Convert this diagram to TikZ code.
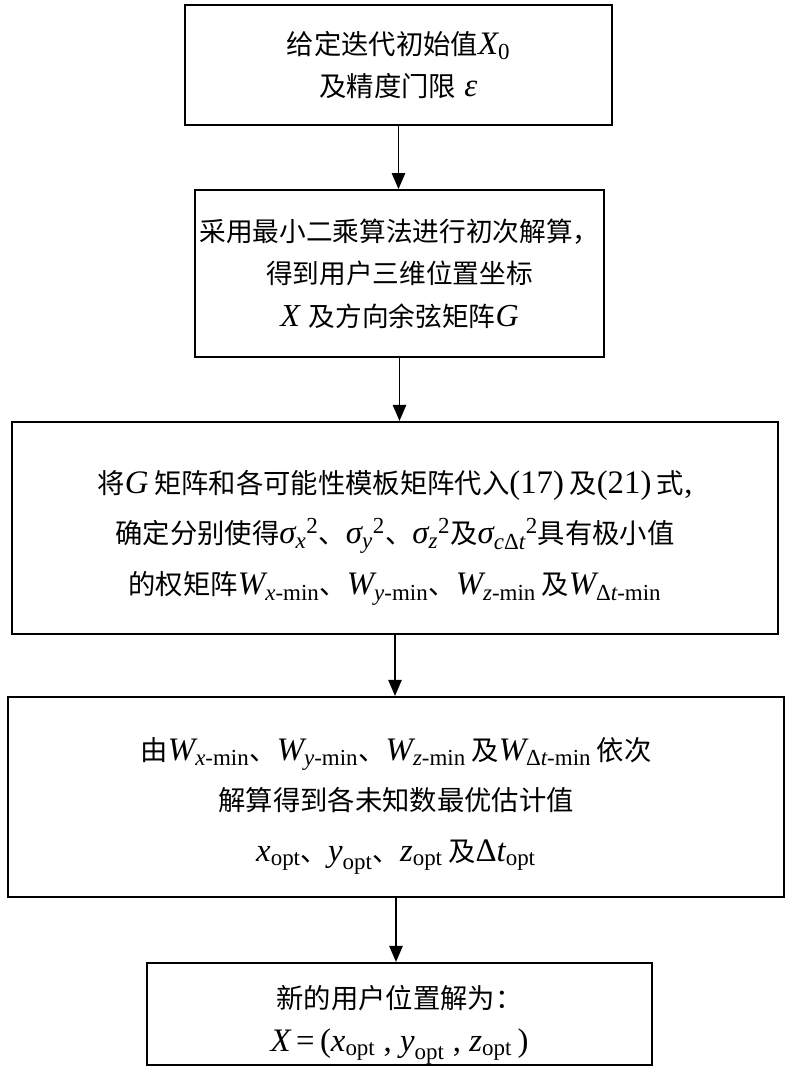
\documentclass[tikz,border=0pt]{standalone}
\usepackage{amsmath}
\usepackage{fontspec}
\setmainfont[Scale = 1.2]{Liberation Serif}
\newfontfamily\cjk{Noto Sans CJK SC}
\usetikzlibrary{positioning, arrows.meta}
\tikzstyle{Arrow} = [
%Create custom arrow style:
line width = 1.1pt,
-{Triangle[width = 10pt, length = 12pt]}
]
\newcommand{\zh}[1]{{\cjk #1}}
\newcommand{\mi}[1]{\textit{#1}}
% lower a block of lines inside its box
\newcommand{\lowered}[2]{\raisebox{-#1}[0pt][0pt]{\begin{tabular}{@{}c@{}}#2\end{tabular}}}

\begin{document}
\begin{tikzpicture}[x = 0.75pt, y = -0.75pt,
			stepbox/.style = {rectangle, draw, line width = 1.6pt, align = center, inner sep = 0pt,
				font = \fontsize{20.5pt}{32pt}\selectfont},
			widebox/.style = {stepbox, font = \fontsize{20.5pt}{38pt}\selectfont},
		]
		\useasboundingbox (0,0) rectangle (800,1070);

		\node[stepbox, minimum width = 320pt, minimum height = 90pt](init) at (398.5,65){%
			\zh{给定迭代初始值}$\mi{X}_{\text{0}}$\\
			\zh{及精度门限} \mi{ε}};
		\node[stepbox, minimum width = 307pt, minimum height = 125pt,
			font = \fontsize{20pt}{32pt}\selectfont](lsq) at (399.5,273.5){%
			\zh{采用最小二乘算法进行初次解算，}\\
			\zh{得到用户三维位置坐标}\\
			\mi{X} \zh{及方向余弦矩阵}\mi{G}};
		\node[widebox, minimum width = 574.5pt, minimum height = 159pt](weight) at (395,528){%
			\lowered{9.5pt}{%
			\zh{将}\mi{G}\,\zh{矩阵和各可能性模板矩阵代入}(17)\,\zh{及}(21)\,\zh{式},\\
			\zh{确定分别使得}$\mi{σ}_{\mi{x}}{}^{\text{2}}$\zh{、}$\mi{σ}_{\mi{y}}{}^{\text{2}}$\zh{、}$\mi{σ}_{\mi{z}}{}^{\text{2}}$\zh{及}$\mi{σ}_{\mi{c}\text{Δ}\mi{t}}{}^{\text{2}}$\zh{具有极小值}\\
			\zh{的权矩阵}$\mi{W}_{\mi{x}\text{-min}}$\zh{、}$\mi{W}_{\mi{y}\text{-min}}$\zh{、}$\mi{W}_{\mi{z}\text{-min}}$\,\zh{及}$\mi{W}_{\text{Δ}\mi{t}\text{-min}}$}};
		\node[widebox, minimum width = 582pt, minimum height = 150pt](optim) at (396,797){%
			\lowered{8pt}{%
			\zh{由}$\mi{W}_{\mi{x}\text{-min}}$\zh{、}$\mi{W}_{\mi{y}\text{-min}}$\zh{、}$\mi{W}_{\mi{z}\text{-min}}$\,\zh{及}$\mi{W}_{\text{Δ}\mi{t}\text{-min}}$\,\zh{依次}\\
			\zh{解算得到各未知数最优估计值}\\
			$\mi{x}_{\text{opt}}$\zh{、}$\mi{y}_{\text{opt}}$\zh{、}$\mi{z}_{\text{opt}}$\,\zh{及}$\text{Δ}\mi{t}_{\text{opt}}$}};
		\node[stepbox, minimum width = 379pt, minimum height = 76.5pt](result) at (399.5,1014){%
			\lowered{11pt}{%
			\zh{新的用户位置解为：}\\
			$\mi{X}\text{\,=\,(}\mi{x}_{\text{opt}}\text{ , }\mi{y}_{\text{opt}}\text{ , }\mi{z}_{\text{opt}}\text{\,)}$}};

		\draw[Arrow](init.south)--(init.south |- lsq.north);
		\draw[Arrow](lsq.south)--(lsq.south |- weight.north);
		\draw[Arrow](weight.south)--(weight.south |- optim.north);
		\draw[Arrow](optim.south)--(optim.south |- result.north);

	\end{tikzpicture}
\end{document}
